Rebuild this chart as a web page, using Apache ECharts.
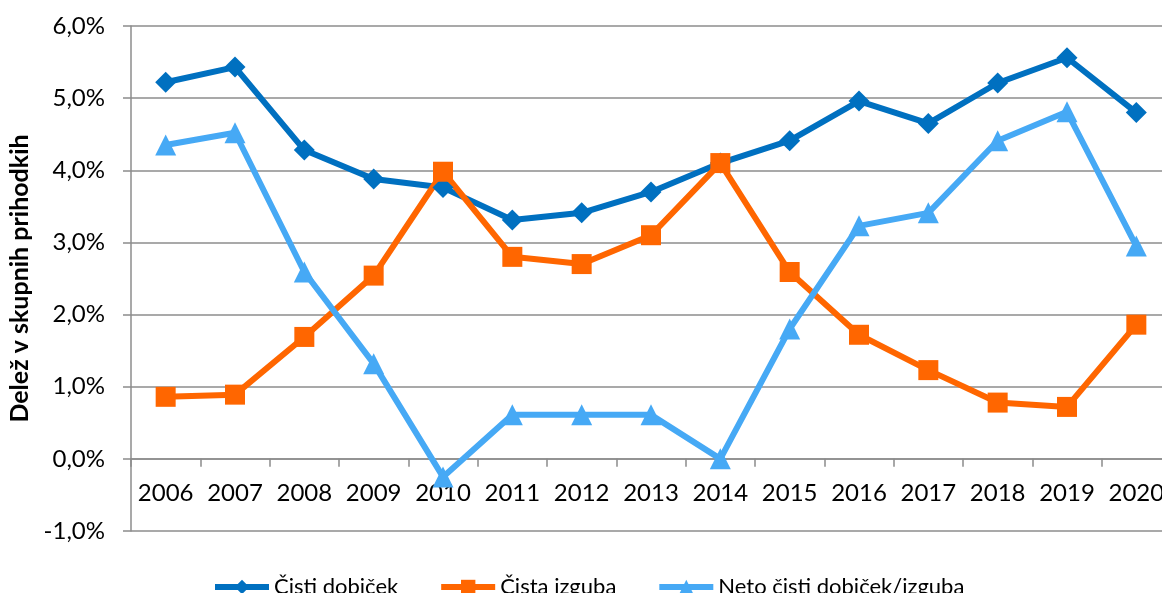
<!DOCTYPE html>
<html>
<head>
<meta charset="utf-8">
<script src="https://cdn.jsdelivr.net/npm/echarts@6/dist/echarts.min.js"></script>
<style>
  html, body { margin: 0; padding: 0; background: #fff; }
  #main { width: 1162px; height: 593px; }
</style>
</head>
<body>
<div id="main"></div>
<script>
// podatki (delež v skupnih prihodkih, %)
var years = ['2006', '2007', '2008', '2009', '2010', '2011', '2012', '2013', '2014', '2015', '2016', '2017', '2018', '2019', '2020'];
var cistiDobicek = [5.22, 5.43, 4.28, 3.88, 3.76, 3.31, 3.41, 3.70, 4.10, 4.41, 4.96, 4.65, 5.21, 5.56, 4.80];
var cistaIzguba = [0.86, 0.89, 1.69, 2.54, 3.98, 2.80, 2.70, 3.10, 4.10, 2.59, 1.72, 1.23, 0.78, 0.72, 1.86];
var netoDobicek = [4.35, 4.52, 2.59, 1.32, -0.25, 0.61, 0.61, 0.61, 0.0, 1.80, 3.23, 3.41, 4.41, 4.81, 2.95];
var seriesNames = ['Čisti dobiček', 'Čista izguba', 'Neto čisti dobiček/izguba'];

var font = 'Lato, "Open Sans", sans-serif';
var gridColor = '#8c8c8c';

var yMin = -1, yMax = 6;
var gridTop = 26, gridBottom = 62;
// x os leži na vrednosti 0, zato jo premaknemo navzgor
var plotH = 593 - gridTop - gridBottom;
var zeroOffset = -plotH * (0 - yMin) / (yMax - yMin);

var myChart = echarts.init(document.getElementById('main'));

var option = {
    animation: false,
    textStyle: { fontFamily: font },
    // risalna površina sega malo čez desni rob
    grid: { left: 131, top: gridTop, width: 1040, bottom: gridBottom, outerBoundsMode: 'none', containLabel: false },
    legend: {
        data: seriesNames,
        left: 207,
        top: 571,
        itemWidth: 54,
        itemHeight: 18,
        itemGap: 40,
        lineStyle: { width: 6 },
        textStyle: { fontSize: 22, color: '#000', fontFamily: font }
    },
    xAxis: {
        type: 'category',
        data: years,
        boundaryGap: true,
        offset: zeroOffset,
        axisLine: { onZero: false, lineStyle: { color: gridColor, width: 1.5 } },
        axisTick: { show: true, length: 8, lineStyle: { color: gridColor, width: 1.5 } },
        axisLabel: { interval: 0, fontSize: 24, color: '#000', margin: 22, fontFamily: font }
    },
    yAxis: {
        type: 'value',
        min: yMin,
        max: yMax,
        interval: 1,
        name: 'Delež v skupnih prihodkih',
        nameLocation: 'middle',
        nameGap: 98,
        nameTextStyle: { fontSize: 25, fontWeight: 'bold', color: '#000', fontFamily: font },
        axisLine: { show: true, lineStyle: { color: gridColor, width: 1.5 } },
        axisTick: { show: true, length: 8, lineStyle: { color: gridColor, width: 1.5 } },
        splitLine: { lineStyle: { color: gridColor, width: 1.5 } },
        axisLabel: {
            fontSize: 24,
            color: '#000',
            margin: 26,
            fontFamily: font,
            formatter: function (v) { return v.toFixed(1).replace('.', ',') + '%'; }
        }
    },
    series: [
        {
            name: seriesNames[0],
            type: 'line',
            data: cistiDobicek,
            symbol: 'diamond',
            symbolSize: 21,
            color: '#0070c0',
            lineStyle: { width: 6 }
        },
        {
            name: seriesNames[1],
            type: 'line',
            data: cistaIzguba,
            symbol: 'rect',
            symbolSize: 20,
            color: '#ff6600',
            lineStyle: { width: 6 }
        },
        {
            name: seriesNames[2],
            type: 'line',
            data: netoDobicek,
            symbol: 'triangle',
            symbolSize: 21,
            color: '#46a9f5',
            lineStyle: { width: 6 }
        }
    ]
};

myChart.setOption(option);
</script>
</body>
</html>
